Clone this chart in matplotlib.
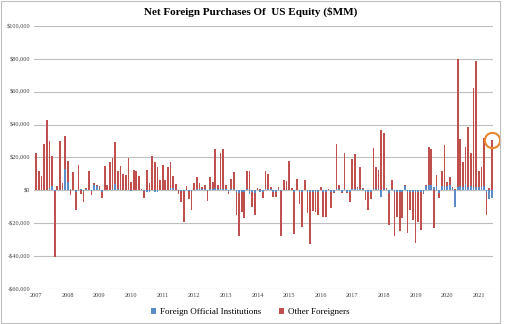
import numpy as np
import matplotlib.pyplot as plt
from matplotlib.patches import Rectangle
from matplotlib.ticker import FuncFormatter

# monthly net purchases, $MM, Jan 2007 .. Jun 2021
official = [
    500, 300, 200, 500, 500, 1500, 2500, -500, 500, 500, 1000, 13000,
    5000, 1000, 500, -1000, 500, 1000, -1000, 1000, 500, -500, 3000, 2500,
    1000, -1000, 500, 500, 500, 1000, 4000, 1000, 500, 500, 500, 500,
    -500, 500, 500, 500, 500, -500, -1000, -1000, 500, -1000, -1000, 500,
    500, 500, 500, 1500, 1500, 500, 500, -500, -500, 500, -500, -500,
    500, 1000, 1000, 1000, 1000, -500, 1000, 1000, 1500, 1000, 1000, 1000,
    1000, -1000, 1000, 1000, -1000, -1500, -1000, -1000, 1000, -2000, -1000, -1500,
    500, -1000, -1000, 1000, 1000, 1000, -1000, -1000, 1000, -500, 500, 500,
    500, 500, -1000, 500, -1000, -1000, 500, -1000, -1000, -1000, -1000, -1000,
    500, -1000, -1000, 500, -1000, -1000, 1000, 1000, -1000, 1000, -1000, -1000,
    1000, 1000, 1500, 1000, 1000, -1000, -1000, -1000, 1000, 1000, 1000, -4000,
    1000, 1000, -1500, 1000, -1000, -1000, -1000, -1000, 2500, -1000, -1000, -1000,
    -1000, -1000, -1000, -1500, 2500, 3500, 3000, 2000, 2500, -1500, 2500, 2000,
    2500, 3500, 1500, -10000, 2000, 2500, 2000, 4000, 2000, 2500, 2000, 2000,
    2000, 2000, 2500, -1500, -5000, -4500,
]
other = [
    22500, 11700, 8800, 27500, 42100, 28500, 18500, -40100, 2000, 29500, 3500, 20000,
    13000, -3000, 10500, -11000, 15100, -2000, -6000, 200, 11000, -2500, 1500, 1000,
    1500, -3500, 14100, 3000, 17000, 18500, 25500, 11000, 14500, 9500, 9000, 19000,
    5000, 12000, 11500, 8500, 500, -4000, 12500, 4500, 20500, 17000, 14500, 6000,
    15000, 6000, 13500, 16000, 7500, 3500, -2000, -6500, -19000, 2000, -4500, -11500,
    4000, 7000, 3500, 1000, 2000, -6000, 7000, 4000, 23500, 2000, 21500, 24000,
    2000, -1000, 6000, 10000, -14000, -26000, -12000, -16000, 11000, 12000, -9000, -13500,
    1000, 1000, -3500, 11000, 9000, 1000, -3000, -3000, 1000, -27000, 5500, 5200,
    17500, 1000, -25500, 6500, -7000, -21500, 6000, -13000, -31700, -11500, -12000, -14000,
    1500, -15000, -15500, 500, -10000, -500, 27000, 2000, -500, 21500, -500, -6000,
    18000, 21000, 300, 13000, 300, -5000, -11000, -4000, 25000, 13000, 11500, 37000,
    34000, 500, -19500, 5000, -26500, -15000, -24000, -16000, 500, -25000, -11000, -17000,
    -31000, -18000, -23000, -500, 500, 23000, 22000, -23000, 7000, -3000, 9500, 25500,
    2500, 4500, 500, 1000, 78000, 29000, 15000, 22500, 36300, 20000, 60000, 76500,
    10000, 12000, 29500, -13500, 1500, 30500,
]
years = list(range(2007, 2022))

official = np.array(official)
other = np.array(other)
x = np.arange(len(official))

# excel style stacking: positives up from 0, negatives down from 0
off_pos = np.where(official > 0, official, 0)
off_neg = np.where(official < 0, official, 0)
bottom_other = np.where(other >= 0, off_pos, off_neg)

plt.rcParams["font.family"] = "Liberation Serif"
fig = plt.figure(figsize=(5.17, 3.24), dpi=100)
ax = fig.add_axes([0.066, 0.108, 0.888, 0.812])

blue = "#5B8CC8"
red = "#C0504D"
ax.bar(x, official, width=0.65, color=blue, label="Foreign Official Institutions", zorder=3)
ax.bar(x, other, width=0.65, bottom=bottom_other, color=red, label="Other Foreigners", zorder=3)

# circle on latest month
last = len(x) - 1
ax.plot(x[last], other[last], "o", ms=11, mfc="none", mec="#E8862E", mew=1.5,
        zorder=4, clip_on=False)

ax.set_ylim(-60000, 100000)
ax.set_yticks(np.arange(-60000, 100001, 20000))
ax.yaxis.set_major_formatter(FuncFormatter(lambda v, p: ("-$" if v < 0 else "$") + f"{abs(v):,.0f}"))
ax.set_xlim(-0.8, len(x) - 0.5)
ax.set_xticks(np.arange(0, len(x), 12))
ax.set_xticklabels([str(y) for y in years])
ax.tick_params(length=0, labelsize=4.5, colors="#404040", pad=3)
ax.grid(axis="y", color="#BFBFBF", lw=0.8, zorder=0)
for s in ax.spines.values():
    s.set_visible(False)

fig.text(0.484, 0.962, "Net Foreign Purchases Of  US Equity ($MM)", ha="center", va="center",
         fontsize=8, fontweight="bold")
fig.legend(loc="center", bbox_to_anchor=(0.484, 0.037), ncol=2, frameon=False, fontsize=6.5,
           handlelength=0.6, handleheight=0.6, handletextpad=0.4, columnspacing=2.0)

fig.patches.append(Rectangle((0.002, 0.003), 0.965, 0.994, transform=fig.transFigure,
                             fill=False, edgecolor="#BFBFBF", lw=0.8))

plt.savefig("out.png", dpi=100)
